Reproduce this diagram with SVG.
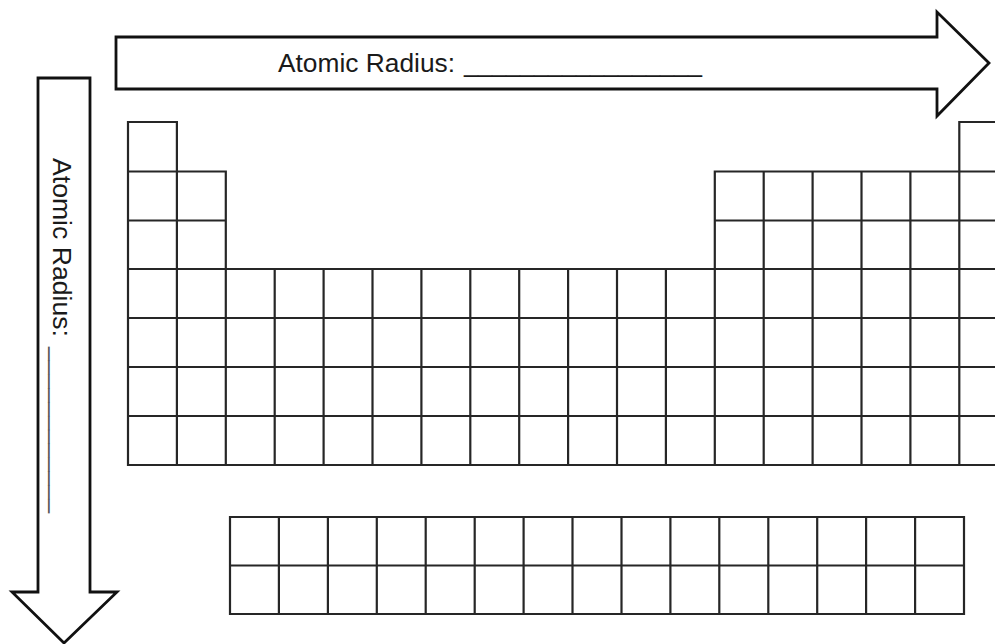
<svg xmlns="http://www.w3.org/2000/svg" width="995" height="644" viewBox="0 0 995 644">
<style>
.arrow{fill:#fff;stroke:#111;stroke-width:2.8;stroke-linejoin:miter}
.grid{fill:none;stroke:#262626;stroke-width:2.2;stroke-linecap:square}
.lbl{font-family:"Liberation Sans",Arial,sans-serif;font-size:25px;fill:#1a1a1a}
</style>
<rect width="995" height="644" fill="#fff"/>
<g id="arrow-right">
<path class="arrow" d="M116,37 H937 V12 L989,63 L937,116 V89 H116 Z"/>
<text class="lbl" y="71.5"><tspan x="278" textLength="177" lengthAdjust="spacingAndGlyphs">Atomic Radius:</tspan> <tspan x="464" textLength="238" lengthAdjust="spacingAndGlyphs">_________________</tspan></text>
</g>
<g id="arrow-down">
<path class="arrow" d="M38,78 H90 V592 H117 L64,643 L12,592 H38 Z"/>
<text class="lbl" transform="translate(53,158) rotate(90)" y="0"><tspan x="0" textLength="179" lengthAdjust="spacingAndGlyphs">Atomic Radius:</tspan> <tspan x="189" textLength="166" lengthAdjust="spacingAndGlyphs" fill="#555">____________</tspan></text>
</g>
<g id="main-table">
<path class="grid" d="M128,122 H176.9 M959.3,122 H1008
M128,171.5 H225.8 M714.8,171.5 H1008
M128,220.5 H225.8 M714.8,220.5 H1008
M128,269 H1008 M128,318 H1008 M128,367 H1008 M128,416 H1008 M128,465 H1008
M128,122 V465 M176.9,122 V465 M225.8,171.5 V465
M274.7,269 V465 M323.6,269 V465 M372.5,269 V465 M421.4,269 V465 M470.3,269 V465 M519.2,269 V465 M568.1,269 V465 M617,269 V465 M665.9,269 V465
M714.8,171.5 V465 M763.7,171.5 V465 M812.6,171.5 V465 M861.5,171.5 V465 M910.4,171.5 V465 M959.3,122 V465"/>
</g>
<g id="inner-table">
<path class="grid" d="M230,517 H964 M230,565.5 H964 M230,614 H964
M230,517 V614 M278.9,517 V614 M327.9,517 V614 M376.8,517 V614 M425.7,517 V614 M474.7,517 V614 M523.6,517 V614 M572.5,517 V614 M621.5,517 V614 M670.4,517 V614 M719.3,517 V614 M768.3,517 V614 M817.2,517 V614 M866.1,517 V614 M915.1,517 V614 M964,517 V614"/>
</g>
</svg>
